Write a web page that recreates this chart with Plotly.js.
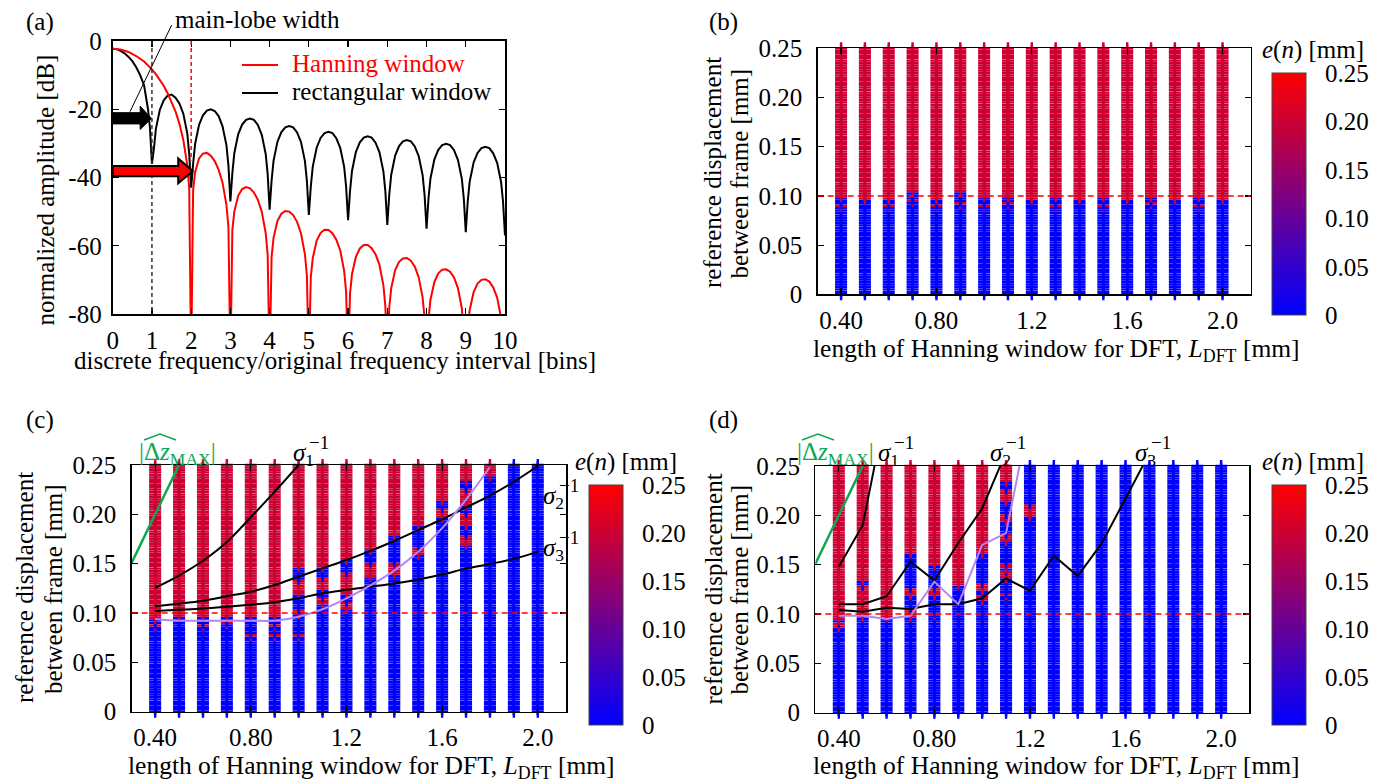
<!DOCTYPE html>
<html><head><meta charset="utf-8">
<script src="https://cdn.plot.ly/plotly-3.0.1.min.js"></script>
<style>html,body{margin:0;padding:0;background:#fff}#chart{width:1386px;height:783px}</style>
</head><body><div id="chart"></div><script>
// ---------- panel (a): window spectra ----------
const hannX = [0,0.2,0.4,0.6,0.8,0.9,1.0,1.1,1.2,1.3,1.4,1.5,1.6,1.7,1.8,1.9,1.95,2.0,
 2.05,2.1,2.2,2.3,2.4,2.5,2.6,2.7,2.8,2.9,2.95,3.0,
 3.05,3.1,3.2,3.3,3.4,3.5,3.6,3.7,3.8,3.9,3.95,4.0,
 4.05,4.1,4.2,4.3,4.4,4.5,4.6,4.7,4.8,4.9,4.95,5.0,
 5.05,5.1,5.2,5.3,5.4,5.5,5.6,5.7,5.8,5.9,5.95,6.0,
 6.05,6.1,6.2,6.3,6.4,6.5,6.6,6.7,6.8,6.9,6.95,7.0,
 7.05,7.1,7.2,7.3,7.4,7.5,7.6,7.7,7.8,7.9,7.95,8.0,
 8.05,8.1,8.2,8.3,8.4,8.5,8.6,8.7,8.8,8.9,8.95,9.0,
 9.05,9.1,9.2,9.3,9.4,9.5,9.6,9.7,9.8,9.9,9.95,10.0];
const hannY = [-2.3,-2.5,-3.2,-4.4,-6.0,-7.1,-8.3,-9.7,-11.3,-13.1,-15.3,-17.7,-20.6,-24.2,-29.0,-36.3,-43.1,-95,
 -43.7,-38.5,-34.4,-33.0,-32.8,-33.6,-35.2,-37.7,-41.5,-48.1,-54.5,-95,
 -55.4,-50.0,-45.3,-43.4,-42.8,-43.2,-44.4,-46.5,-50.0,-56.3,-62.6,-95,
 -63.3,-57.7,-52.7,-50.6,-49.8,-50.0,-51.0,-53.0,-56.4,-62.5,-68.7,-95,
 -69.2,-63.6,-58.5,-56.2,-55.3,-55.4,-56.3,-58.2,-61.4,-67.4,-73.6,-95,
 -74.0,-68.3,-63.2,-60.8,-59.8,-59.8,-60.7,-62.5,-65.6,-71.6,-77.7,-95,
 -78.1,-72.4,-67.1,-64.7,-63.7,-63.6,-64.4,-66.1,-69.2,-75.2,-81.3,-95,
 -81.7,-75.8,-70.6,-68.1,-67.0,-66.9,-67.6,-69.3,-72.4,-78.3,-84.0,-95,
 -84.5,-78.9,-73.6,-71.1,-70.0,-69.8,-70.5,-72.2,-75.2,-81.1,-87.0,-95];
const rectX = [0,0.1,0.2,0.3,0.4,0.5,0.6,0.7,0.8,0.85,0.9,0.95,0.98,1.0,
 1.05,1.1,1.2,1.3,1.4,1.5,1.6,1.7,1.8,1.9,1.95,2.0,
 2.05,2.1,2.2,2.3,2.4,2.5,2.6,2.7,2.8,2.9,2.95,3.0,
 3.05,3.1,3.2,3.3,3.4,3.5,3.6,3.7,3.8,3.9,3.95,4.0,
 4.05,4.1,4.2,4.3,4.4,4.5,4.6,4.7,4.8,4.9,4.95,5.0,
 5.05,5.1,5.2,5.3,5.4,5.5,5.6,5.7,5.8,5.9,5.95,6.0,
 6.05,6.1,6.2,6.3,6.4,6.5,6.6,6.7,6.8,6.9,6.95,7.0,
 7.05,7.1,7.2,7.3,7.4,7.5,7.6,7.7,7.8,7.9,7.95,8.0,
 8.05,8.1,8.2,8.3,8.4,8.5,8.6,8.7,8.8,8.9,8.95,9.0,
 9.05,9.1,9.2,9.3,9.4,9.5,9.6,9.7,9.8,9.9,9.95,10.0];
const rectY = [-2.3,-2.4,-2.9,-3.6,-4.6,-5.9,-7.7,-10.0,-13.0,-16.0,-20.0,-25.5,-30.5,-36,
 -31.6,-25.8,-20.2,-17.4,-16.0,-15.7,-16.6,-18.3,-21.3,-27.0,-33.0,-43.0,
 -36.0,-30.2,-24.6,-21.8,-20.4,-20.0,-20.5,-22.0,-25.0,-30.6,-36.5,-47.0,
 -38.7,-32.9,-27.3,-24.5,-23.1,-22.7,-23.1,-24.6,-27.5,-33.1,-39.0,-49.4,
 -40.9,-35.1,-29.5,-26.7,-25.3,-24.9,-25.3,-26.8,-29.6,-35.2,-41.0,-51.0,
 -42.6,-36.8,-31.2,-28.4,-27.0,-26.6,-27.0,-28.5,-31.3,-36.9,-42.7,-52.5,
 -43.9,-38.1,-32.5,-29.7,-28.3,-27.9,-28.3,-29.8,-32.6,-38.2,-44.0,-53.9,
 -45.0,-39.2,-33.6,-30.8,-29.4,-29.0,-29.4,-30.9,-33.7,-39.3,-45.1,-55.0,
 -46.1,-40.3,-34.7,-31.9,-30.5,-30.1,-30.5,-32.0,-34.8,-40.4,-46.2,-56.0,
 -47.0,-41.2,-35.6,-32.8,-31.4,-31.0,-31.4,-32.9,-35.7,-41.3,-47.1,-57.0];
const aXTicks = [0,1,2,3,4,5,6,7,8,9,10];
const aYTicks = [0,-20,-40,-60,-80];
const aYTickText = ["0","-20","-40","-60","-80"];

// ---------- panels (b)-(d): error maps ----------
const lengthsL = [0.4,0.5,0.6,0.7,0.8,0.9,1.0,1.1,1.2,1.3,1.4,1.5,1.6,1.7,1.8,1.9,2.0];
const dispStep = 0.0025, dispMax = 0.25;
const errLow = 0.0, errHigh = 0.2;
// displacement spans (per window length) where e(n) is large
const redSpansB = [
 [[0.099,0.25],[0.088,0.091]], [[0.097,0.25]], [[0.097,0.25],[0.09,0.092]], [[0.103,0.25],[0.094,0.096]],
 [[0.097,0.25],[0.088,0.091]], [[0.103,0.25],[0.092,0.094]], [[0.1,0.25],[0.088,0.091]], [[0.1,0.25],[0.092,0.094]],
 [[0.097,0.25]], [[0.1,0.25],[0.09,0.092]], [[0.097,0.25]], [[0.1,0.25],[0.088,0.091]], [[0.097,0.25]],
 [[0.1,0.25],[0.092,0.094]], [[0.097,0.25]], [[0.1,0.25],[0.09,0.092]], [[0.097,0.25]]];
const redSpansC = [
 [[0.095,0.25],[0.087,0.089]], [[0.096,0.25]], [[0.096,0.25],[0.087,0.089]], [[0.096,0.25],[0.089,0.091]],
 [[0.096,0.25],[0.077,0.079]], [[0.096,0.25],[0.077,0.079],[0.087,0.089]],
 [[0.12,0.134],[0.146,0.25],[0.077,0.079],[0.1,0.104]],
 [[0.147,0.25],[0.124,0.136],[0.11,0.116]], [[0.155,0.25],[0.12,0.14],[0.104,0.11]],
 [[0.165,0.25],[0.137,0.15]], [[0.178,0.25],[0.14,0.15]], [[0.19,0.25],[0.16,0.165]],
 [[0.215,0.25],[0.197,0.205]], [[0.235,0.25],[0.21,0.225],[0.19,0.2],[0.17,0.178]],
 [[0.24,0.25]], [], []];
const redSpansD = [
 [[0.094,0.25],[0.087,0.09]], [[0.097,0.128],[0.134,0.25]], [[0.097,0.25]],
 [[0.162,0.25],[0.12,0.125],[0.097,0.105]], [[0.15,0.25],[0.12,0.126],[0.098,0.102]],
 [[0.128,0.25]], [[0.162,0.25],[0.125,0.13],[0.115,0.118]],
 [[0.235,0.25],[0.215,0.225],[0.195,0.2],[0.175,0.18],[0.147,0.15],[0.137,0.143],[0.12,0.122]],
 [[0.2,0.21]], [], [], [], [], [], [], [], []];
const ticksL = [0.4,0.8,1.2,1.6,2.0];
const ticksLText = ["0.40","0.80","1.2","1.6","2.0"];
const ticksD = [0,0.05,0.1,0.15,0.2,0.25];
const ticksDText = ["0","0.05","0.10","0.15","0.20","0.25"];
const threshold = 0.1;

// curves (c)
const sig1CX = [0.4,0.5,0.6,0.7,0.8,0.9,1.0];
const sig1CY = [0.1256,0.138,0.153,0.172,0.197,0.223,0.25];
const sig2CY = [0.107,0.1095,0.1125,0.117,0.1216,0.1284,0.1368,0.1453,0.1537,0.163,0.173,0.184,0.195,0.207,0.219,0.233,0.249];
const sig3CY = [0.102,0.1032,0.1045,0.1064,0.1085,0.111,0.1149,0.12,0.1235,0.1267,0.130,0.134,0.139,0.145,0.1497,0.155,0.162];
const purpCX = [0.4,0.5,0.6,0.7,0.8,0.9,1.0,1.1,1.2,1.3,1.4,1.5,1.6,1.7,1.8];
const purpCY = [0.094,0.0922,0.0922,0.0922,0.0922,0.0922,0.0963,0.1038,0.1149,0.128,0.143,0.162,0.186,0.215,0.248];
// curves (d)
const sig1DX = [0.4,0.5,0.6];
const sig1DY = [0.148,0.19,0.311];
const sig2DX = [0.4,0.5,0.6,0.7,0.8,0.9,1.0,1.1];
const sig2DY = [0.110,0.110,0.118,0.153,0.134,0.172,0.207,0.264];
const sig3DX = [0.4,0.5,0.6,0.7,0.8,0.9,1.0,1.1,1.2,1.3,1.4,1.5,1.6,1.7];
const sig3DY = [0.104,0.1024,0.1064,0.105,0.110,0.110,0.116,0.136,0.1236,0.159,0.1385,0.1716,0.217,0.263];
const purpDX = [0.4,0.5,0.6,0.7,0.8,0.9,1.0,1.1,1.2];
const purpDY = [0.0983,0.0983,0.095,0.0983,0.1328,0.1098,0.170,0.182,0.303];
// |Δz_MAX| line
const dzX = [0.3,0.5];
const dzY = [0.15,0.25];

// ---------- build ----------
const W = 1386, H = 783;
const fx = p => p / W, fy = p => 1 - p / H;
const FONT = 'Liberation Serif, Times New Roman, serif';
const RED = '#ff0000', GREEN = 'rgb(18,166,80)', PURPLE = 'rgb(180,132,246)';
const cscale = [[0,'rgb(0,0,255)'],[1,'rgb(255,0,0)']];
const F = (size, color) => ({family: FONT, size: size, color: color || '#000'});

function columnMarks(spans) {
  const xs = [], ys = [], es = [];
  const nRows = Math.round(dispMax / dispStep);
  lengthsL.forEach((L, i) => {
    for (let k = 0; k <= nRows; k++) {
      const d = +(k * dispStep).toFixed(5);
      const hit = spans[i].some(s => d >= s[0] - 1e-9 && d <= s[1] + 1e-9);
      xs.push(L); ys.push(d); es.push(hit ? errHigh : errLow);
    }
  });
  return {xs, ys, es};
}

function markTrace(spans, xa, ya, cb) {
  const m = columnMarks(spans);
  return {
    type: 'scatter', mode: 'markers', x: m.xs, y: m.ys, xaxis: xa, yaxis: ya,
    cliponaxis: false, hoverinfo: 'skip', showlegend: false,
    marker: {
      symbol: 'cross-thin', size: 8.6, color: m.es, colorscale: cscale, cmin: 0, cmax: 0.25,
      showscale: true,
      line: {width: 2.4, color: m.es, colorscale: cscale, cmin: 0, cmax: 0.25},
      colorbar: Object.assign({
        xref: 'paper', yref: 'paper', xanchor: 'left', yanchor: 'middle',
        lenmode: 'pixels', thicknessmode: 'pixels', thickness: 34, xpad: 0, ypad: 0,
        outlinewidth: 1, outlinecolor: '#444', borderwidth: 0,
        tickvals: ticksD, ticktext: ticksDText, ticks: 'outside', ticklen: 14,
        tickcolor: 'rgba(0,0,0,0)', tickfont: F(25)
      }, cb)
    }
  };
}

function lineTrace(x, y, xa, ya, color, shape, width) {
  return {type: 'scatter', mode: 'lines', x, y, xaxis: xa, yaxis: ya, hoverinfo: 'skip', showlegend: false,
    line: {color, width: width || 2, shape: shape || 'linear'}};
}

const data = [
  lineTrace(rectX, rectY, 'x', 'y', '#000', 'linear', 2),
  lineTrace(hannX, hannY, 'x', 'y', RED, 'linear', 2),
  markTrace(redSpansB, 'x2', 'y2', {x: fx(1271.7), y: fy(194.2), len: 241.7}),
  markTrace(redSpansC, 'x3', 'y3', {x: fx(589.3), y: fy(605), len: 240}),
  markTrace(redSpansD, 'x4', 'y4', {x: fx(1271.7), y: fy(605), len: 240}),
  lineTrace(dzX, dzY, 'x3', 'y3', GREEN, 'linear', 2.5),
  lineTrace(sig1CX, sig1CY, 'x3', 'y3', '#000', 'spline', 2),
  lineTrace(lengthsL, sig2CY, 'x3', 'y3', '#000', 'spline', 2),
  lineTrace(lengthsL, sig3CY, 'x3', 'y3', '#000', 'spline', 2),
  lineTrace(purpCX, purpCY, 'x3', 'y3', PURPLE, 'spline', 2),
  lineTrace(dzX, dzY, 'x4', 'y4', GREEN, 'linear', 2.5),
  lineTrace(sig1DX, sig1DY, 'x4', 'y4', '#000', 'linear', 2),
  lineTrace(sig2DX, sig2DY, 'x4', 'y4', '#000', 'linear', 2),
  lineTrace(sig3DX, sig3DY, 'x4', 'y4', '#000', 'linear', 2),
  lineTrace(purpDX, purpDY, 'x4', 'y4', PURPLE, 'linear', 2)
];

const axBase = {showgrid: false, zeroline: false, showline: true, linecolor: '#000', linewidth: 1.5,
  mirror: 'ticks', ticks: 'inside', ticklen: 6, tickwidth: 1.2, tickcolor: '#000',
  tickfont: F(25), fixedrange: true};
const ax = o => Object.assign({}, axBase, o);
const Lrange = [0.302, 2.118];

const layout = {
  width: W, height: H, margin: {l: 0, r: 0, t: 0, b: 0},
  paper_bgcolor: '#fff', plot_bgcolor: 'rgba(0,0,0,0)', showlegend: false,
  font: F(25),
  xaxis: ax({domain: [fx(112.7), fx(505)], range: [0, 10], tickvals: aXTicks, anchor: 'y', linewidth: 2, ticklabelstandoff: 3}),
  yaxis: ax({domain: [fy(314), fy(41)], range: [-80, 0], tickvals: aYTicks, ticktext: aYTickText, anchor: 'x', linewidth: 2, ticklabelstandoff: 4}),
  xaxis2: ax({domain: [fx(817.7), fx(1250.7)], range: Lrange, tickvals: ticksL, ticktext: ticksLText, anchor: 'y2', ticklabelstandoff: 3}),
  yaxis2: ax({domain: [fy(294.3), fy(48.3)], range: [0, 0.25], tickvals: ticksD, ticktext: ticksDText, anchor: 'x2', ticklabelstandoff: 9}),
  xaxis3: ax({domain: [fx(131.7), fx(566)], range: Lrange, tickvals: ticksL, ticktext: ticksLText, anchor: 'y3', ticklabelstandoff: 3}),
  yaxis3: ax({domain: [fy(711.7), fy(465)], range: [0, 0.25], tickvals: ticksD, ticktext: ticksDText, anchor: 'x3', ticklabelstandoff: 9}),
  xaxis4: ax({domain: [fx(815.4), fx(1249.3)], range: Lrange, tickvals: ticksL, ticktext: ticksLText, anchor: 'y4', ticklabelstandoff: 3}),
  yaxis4: ax({domain: [fy(712.7), fy(466)], range: [0, 0.25], tickvals: ticksD, ticktext: ticksDText, anchor: 'x4', ticklabelstandoff: 9}),
  shapes: [
    {type: 'line', xref: 'x', yref: 'y', x0: 1, x1: 1, y0: 0, y1: -80, line: {color: '#333', width: 1.5, dash: '4px,3px'}},
    {type: 'line', xref: 'x', yref: 'y', x0: 2, x1: 2, y0: 0, y1: -35, line: {color: RED, width: 1.5, dash: '4px,3px'}},
    {type: 'path', xref: 'x', yref: 'y', path: 'M0,-21 L0.7,-21 L0.7,-19.1 L0.99,-22.7 L0.7,-25.9 L0.7,-24.3 L0,-24.3 Z', fillcolor: '#000', line: {color: '#000', width: 1}},
    {type: 'path', xref: 'x', yref: 'y', path: 'M0,-36.6 L1.67,-36.6 L1.67,-34.4 L2.04,-38.1 L1.67,-41.7 L1.67,-39.6 L0,-39.6 Z', fillcolor: RED, line: {color: '#000', width: 2}},
    {type: 'line', xref: 'paper', yref: 'paper', x0: fx(242), x1: fx(278), y0: fy(65), y1: fy(65), line: {color: RED, width: 2}},
    {type: 'line', xref: 'paper', yref: 'paper', x0: fx(242), x1: fx(278), y0: fy(93), y1: fy(93), line: {color: '#000', width: 2}},
    {type: 'line', xref: 'paper', yref: 'paper', x0: fx(171.7), x1: fx(130), y0: fy(25), y1: fy(111.7), line: {color: '#000', width: 1}},
    {type: 'line', xref: 'x2 domain', yref: 'y2', x0: 0, x1: 1, y0: threshold, y1: threshold, line: {color: RED, width: 1.5, dash: '6px,4px'}},
    {type: 'line', xref: 'x3 domain', yref: 'y3', x0: 0, x1: 1, y0: threshold, y1: threshold, line: {color: RED, width: 1.5, dash: '6px,4px'}},
    {type: 'line', xref: 'x4 domain', yref: 'y4', x0: 0, x1: 1, y0: threshold, y1: threshold, line: {color: RED, width: 1.5, dash: '6px,4px'}},
    {type: 'path', xref: 'paper', yref: 'paper', path: `M${fx(144)},${fy(440)} L${fx(160)},${fy(434)} L${fx(176)},${fy(440)}`, line: {color: GREEN, width: 1.5}},
    {type: 'path', xref: 'paper', yref: 'paper', path: `M${fx(802)},${fy(440)} L${fx(818)},${fy(434)} L${fx(834)},${fy(440)}`, line: {color: GREEN, width: 1.5}}
  ],
  annotations: []
};

function ann(text, x, y, o) {
  layout.annotations.push(Object.assign({text, x: fx(x), y: fy(y), xref: 'paper', yref: 'paper', showarrow: false,
    xanchor: 'center', yanchor: 'middle', font: F(25)}, o || {}));
}
ann('(a)', 40, 22);
ann('(b)', 723, 22);
ann('(c)', 40, 420);
ann('(d)', 723, 420);
ann('main-lobe width', 173, 20, {xanchor: 'left'});
ann('Hanning window', 290, 63, {xanchor: 'left', font: F(25, RED)});
ann('rectangular window', 290, 91, {xanchor: 'left'});
ann('normalized amplitude [dB]', 45.5, 190, {textangle: -90});
ann('discrete frequency/original frequency interval [bins]', 72, 360, {xanchor: 'left'});
const xt = 'length of Hanning window for DFT, <i>L</i><sub>DFT</sub> [mm]';
ann(xt, 1302, 350, {xanchor: 'right', font: F(25.5)});
ann(xt, 617, 767, {xanchor: 'right', font: F(25.5)});
ann(xt, 1302, 767, {xanchor: 'right', font: F(25.5)});
ann('reference displacement', 712.5, 172.5, {textangle: -90});
ann('between frame [mm]', 738.5, 174, {textangle: -90});
ann('reference displacement', 24, 588, {textangle: -90});
ann('between frame [mm]', 53, 589, {textangle: -90});
ann('reference displacement', 712.5, 589, {textangle: -90});
ann('between frame [mm]', 738.5, 590, {textangle: -90});
const eTitle = '<i>e</i>(<i>n</i>) [mm]';
ann(eTitle, 1260, 50, {xanchor: 'left'});
ann(eTitle, 573, 462, {xanchor: 'left'});
ann(eTitle, 1260, 462, {xanchor: 'left'});
const dzT = '|Δ<i>z</i><sub>MAX</sub>|';
ann(dzT, 137, 453, {xanchor: 'left', font: F(25, GREEN)});
ann(dzT, 795, 453, {xanchor: 'left', font: F(25, GREEN)});
// σ labels: symbol with subscript, and the −1 exponent stacked above the subscript
function sigma(idx, x, y) {
  ann('<i>σ</i><sub>' + idx + '</sub>', x, y, {xanchor: 'left'});
  ann('−1', x + 16, y - 12, {xanchor: 'left', font: F(19)});
}
sigma(1, 291, 454);
sigma(2, 541, 497);
sigma(3, 541, 549);
sigma(1, 876, 454);
sigma(2, 988, 454);
sigma(3, 1133, 454);

Plotly.newPlot('chart', data, layout, {displayModeBar: false, staticPlot: true});
</script></body></html>
